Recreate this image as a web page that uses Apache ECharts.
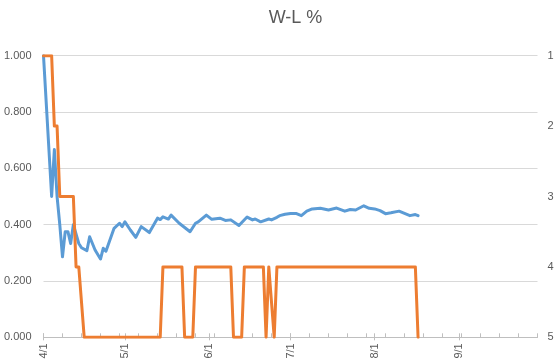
<!DOCTYPE html>
<html><head><meta charset="utf-8">
<script src="https://cdn.jsdelivr.net/npm/echarts@6/dist/echarts.min.js"></script>
<style>html,body{margin:0;padding:0;background:#fff}#c{width:558px;height:364px}</style>
</head><body><div id="c"></div>
<script>
// ---- data ----
const titleText = 'W-L %';
const axisStart = '4/1';
const axisEnd = '9/30';
const monthTicks = ['4/1', '5/1', '6/1', '7/1', '8/1', '9/1'];
const pctTicks = [0, 0.2, 0.4, 0.6, 0.8, 1.0];
const rankTicks = [1, 2, 3, 4, 5];

const wlDates = ['4/1','4/4','4/5','4/6','4/7','4/8','4/9','4/10','4/11','4/12','4/14','4/15','4/17','4/18','4/20','4/22','4/23','4/24','4/27','4/29','4/30',
  '5/1','5/3','5/5','5/7','5/10','5/13','5/14','5/15','5/17','5/18','5/21','5/25','5/27','5/28','5/31',
  '6/2','6/5','6/7','6/9','6/12','6/15','6/17','6/18','6/20','6/23','6/24','6/26','6/27','6/29',
  '7/1','7/3','7/5','7/7','7/9','7/12','7/15','7/18','7/21','7/23','7/25','7/28','7/30',
  '8/1','8/3','8/5','8/7','8/10','8/12','8/14','8/16','8/17'];
const wlValues = [1.000,0.500,0.667,0.500,0.400,0.286,0.375,0.375,0.333,0.400,0.333,0.318,0.308,0.357,0.310,0.278,0.316,0.306,0.387,0.405,0.393,
  0.410,0.381,0.355,0.393,0.372,0.423,0.418,0.428,0.420,0.434,0.405,0.375,0.405,0.410,0.434,
  0.419,0.423,0.415,0.417,0.397,0.427,0.417,0.420,0.410,0.420,0.417,0.426,0.432,0.437,
  0.440,0.440,0.432,0.448,0.456,0.458,0.452,0.459,0.448,0.454,0.452,0.467,0.458,
  0.456,0.450,0.439,0.442,0.448,0.440,0.432,0.436,0.432];

const rankDates = ['4/1','4/4','4/5','4/6','4/7','4/12','4/13','4/14','4/16','5/14','5/15','5/22','5/23','5/26','5/27',
  '6/9','6/10','6/13','6/14','6/21','6/22','6/23','6/25','6/26','8/16','8/17'];
const rankValues = [1,1,2,2,3,3,4,4,5,5,4,4,5,5,4,4,5,5,4,4,5,4,5,4,4,5];

// ---- helpers ----
const Y = 2015;
function dayOf(s) {
  const p = s.split('/').map(Number);
  return Math.round((Date.UTC(Y, p[0] - 1, p[1]) - Date.UTC(Y, 3, 1)) / 86400000);
}
function dayLabel(v) {
  const t = new Date(Date.UTC(Y, 3, 1) + Math.round(v) * 86400000);
  return (t.getUTCMonth() + 1) + '/' + t.getUTCDate();
}
const xMin = dayOf(axisStart), xMax = dayOf(axisEnd);
const majorDays = monthTicks.map(dayOf);
const weekDays = [];
for (let d = xMin; d <= xMax; d += 7) weekDays.push(d);

const wlData = wlDates.map((d, i) => [dayOf(d), wlValues[i]]);
const rankData = rankDates.map((d, i) => [dayOf(d), rankValues[i]]);

const FONT = 'Liberation Sans';
const labelColor = '#595959';
const gridObj = { left: 43.5, right: 20.5, top: 55.7, bottom: 26.7 };

const chart = echarts.init(document.getElementById('c'), null, { renderer: 'canvas' });
chart.setOption({
  animation: false,
  backgroundColor: '#fff',
  title: {
    text: titleText, left: 290.5, top: 4, textAlign: 'center',
    textStyle: { fontFamily: FONT, fontSize: 18, fontWeight: 'normal', color: labelColor }
  },
  grid: gridObj,
  xAxis: [{
    type: 'value', min: xMin, max: xMax, position: 'bottom',
    axisLine: { show: true, onZero: false, lineStyle: { color: '#BFBFBF', width: 1 } },
    axisTick: { show: true, customValues: majorDays, length: 3, inside: false, lineStyle: { color: '#BFBFBF' } },
    axisLabel: {
      customValues: majorDays, formatter: v => dayLabel(v), rotate: 90, margin: 6,
      fontFamily: FONT, fontSize: 11, color: labelColor
    },
    splitLine: { show: false }
  }, {
    type: 'value', min: xMin, max: xMax, position: 'bottom',
    axisLine: { show: false, onZero: false },
    axisTick: { show: true, customValues: weekDays.concat(majorDays), length: 4, inside: true, lineStyle: { color: '#BFBFBF' } },
    axisLabel: { show: false },
    splitLine: { show: false }
  }],
  yAxis: [{
    type: 'value', min: 0, max: 1, interval: 0.2, position: 'left',
    axisLine: { show: false }, axisTick: { show: false },
    axisLabel: {
      customValues: pctTicks, formatter: v => v.toFixed(3), margin: 12,
      fontFamily: FONT, fontSize: 11, color: labelColor
    },
    splitLine: { show: true, lineStyle: { color: '#D9D9D9', width: 1 } }
  }, {
    type: 'value', min: 1, max: 5, interval: 1, inverse: true, position: 'right',
    axisLine: { show: false }, axisTick: { show: false },
    axisLabel: {
      customValues: rankTicks, formatter: v => String(v), margin: 10,
      fontFamily: FONT, fontSize: 11, color: labelColor
    },
    splitLine: { show: false }
  }],
  series: [{
    name: 'W-L %', type: 'line', xAxisIndex: 0, yAxisIndex: 0, data: wlData,
    showSymbol: false, symbol: 'none', lineStyle: { color: '#5B9BD5', width: 3, join: 'round', cap: 'round' }, z: 3
  }, {
    name: 'Rank', type: 'line', xAxisIndex: 0, yAxisIndex: 1, data: rankData,
    showSymbol: false, symbol: 'none', lineStyle: { color: '#ED7D31', width: 3, join: 'round', cap: 'round' }, z: 4
  }]
});
</script></body></html>
